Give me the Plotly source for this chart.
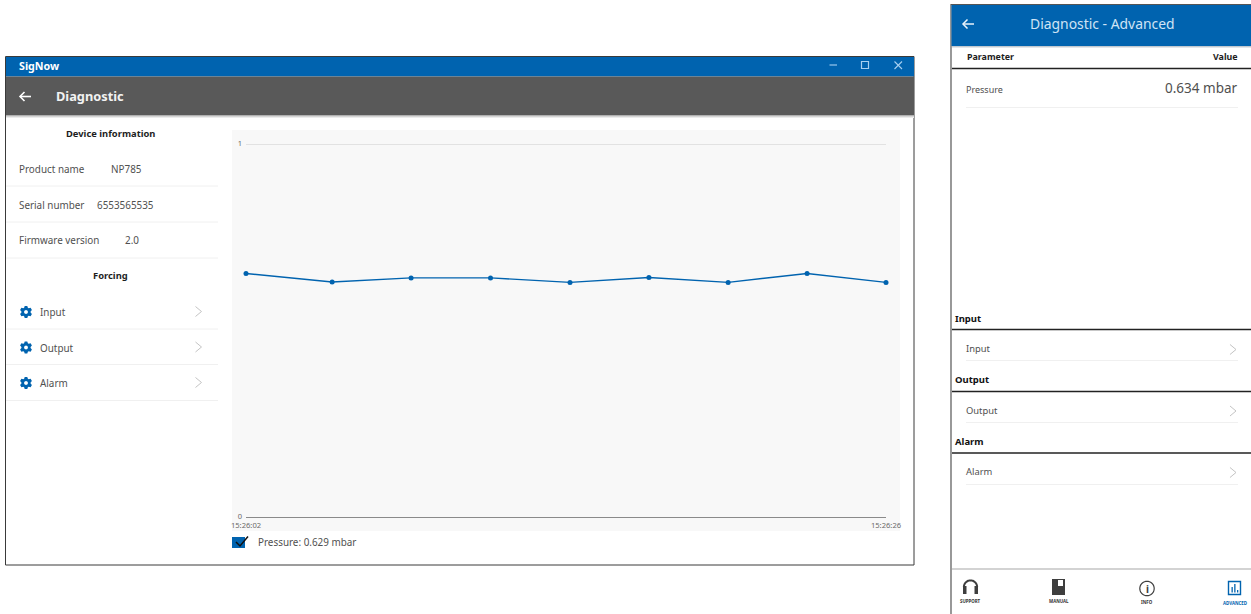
import math
import plotly.graph_objects as go

# ---- data ----
times = ["2024-01-01 15:26:02", "2024-01-01 15:26:05.23", "2024-01-01 15:26:08.19",
         "2024-01-01 15:26:11.17", "2024-01-01 15:26:14.15", "2024-01-01 15:26:17.11",
         "2024-01-01 15:26:20.08", "2024-01-01 15:26:23.04", "2024-01-01 15:26:26"]
pressure = [0.653, 0.630, 0.641, 0.641, 0.629, 0.642, 0.629, 0.653, 0.629]
x_tick_values = [times[0], times[-1]]
x_tick_labels = ["15:26:02", "15:26:26"]
y_tick_values = [0, 1]
legend_label = "Pressure: 0.629 mbar"

W, H = 1251, 614
BLUE = "#0063AF"
DARK = "#595959"
TXT = "#505050"
LIGHT = "#F0F0F0"
FONT = "Noto Sans"

shapes, notes = [], []
px = lambda x: x / W
py = lambda y: 1 - y / H

def rect(x0, y0, x1, y1, fill, line=None, lw=1):
    shapes.append(dict(type="rect", xref="paper", yref="paper", layer="below",
                       x0=px(x0), y0=py(y0), x1=px(x1), y1=py(y1), fillcolor=fill,
                       line=dict(color=line or "rgba(0,0,0,0)", width=lw if line else 0)))

def hline(x0, x1, y, color, lw=1):
    shapes.append(dict(type="line", xref="paper", yref="paper", layer="below",
                       x0=px(x0), x1=px(x1), y0=py(y), y1=py(y), line=dict(color=color, width=lw)))

def path(points, color=None, fill=None, lw=1.2, close=False):
    d = "M " + " L ".join(f"{px(a):.5f},{py(b):.5f}" for a, b in points) + (" Z" if close else "")
    shapes.append(dict(type="path", xref="paper", yref="paper", layer="below", path=d,
                       fillcolor=fill or "rgba(0,0,0,0)",
                       line=dict(color=color or "rgba(0,0,0,0)", width=lw if color else 0)))

def arc(cx, cy, r, a0=0, a1=360, n=36):
    return [(cx + r * math.cos(math.radians(a0 + (a1 - a0) * i / n)),
             cy + r * math.sin(math.radians(a0 + (a1 - a0) * i / n))) for i in range(n + 1)]

def text(x, y, s, size=10.5, color=TXT, bold=False, anchor="left"):
    notes.append(dict(xref="paper", yref="paper", x=px(x), y=py(y - 0.5), text=s, showarrow=False,
                      xanchor=anchor, yanchor="middle", borderpad=0,
                      font=dict(family=FONT, size=size, color=color, weight="bold" if bold else "normal")))

def gear(cx, cy):
    pts = []
    for i in range(6):
        a = 60 * i - 90
        for da, r in [(-24, 4.6), (-12, 6.2), (12, 6.2), (24, 4.6)]:
            pts.append((cx + r * math.cos(math.radians(a + da)), cy + r * math.sin(math.radians(a + da))))
    path(pts, fill=BLUE, close=True)
    path(arc(cx, cy, 1.9), fill="white", close=True)

def chevron(x, y, color="#C4C4C4"):
    path([(x, y - 5), (x + 6, y), (x, y + 5)], color=color, lw=1)

# ---- desktop window ----
rect(5.5, 56.5, 914, 565, "white", "#3A3A3A", 1)
rect(6, 57, 914, 76.5, BLUE)
rect(6, 76.5, 914, 115, DARK)
for i, c in enumerate(["#B0B0B0", "#D4D4D4", "#ECECEC"]):
    hline(6, 914, 115.5 + i, c)
text(17.5, 66.5, "SigNow", 10.7, "white", True)
text(55, 97, "Diagnostic", 12.8, "#F2F2F2", True)
path([(31, 96.5), (20, 96.5)], color="white", lw=1.6)
path([(24.5, 92), (20, 96.5), (24.5, 101)], color="white", lw=1.6)
hline(829.5, 837, 65, "#8FC0E8", 1.3)
rect(861.5, 61.5, 868.5, 68.5, "rgba(0,0,0,0)", "#A8D0F0", 1.2)
path([(894.5, 61.5), (902, 69)], color="#A8D0F0", lw=1.1)
path([(902, 61.5), (894.5, 69)], color="#A8D0F0", lw=1.1)

text(110.5, 133.5, "Device information", 9.4, "#1E1E1E", True, "center")
text(18, 169.5, "Product name", 9.9)
text(110, 169.5, "NP785", 9.9)
text(95.5, 205, "6553565535", 9.9)
text(18, 205, "Serial number", 9.9)
text(18, 240.5, "Firmware version", 9.9)
text(124, 240.5, "2.0", 9.9)
text(110.5, 276, "Forcing", 9.4, "#1E1E1E", True, "center")
for y in (186, 222, 258, 329, 364.5, 400.5):
    hline(6, 218, y, LIGHT)
for label, y in [("Input", 312.5), ("Output", 348), ("Alarm", 383.5)]:
    text(39, y, label, 9.9)
    gear(26, y - 0.5)
    chevron(195.5, y - 1)

# chart panel and legend swatch
rect(232, 130, 900, 531, "#F8F8F8")
rect(232, 537, 245, 548, BLUE)
path([(236, 542), (240, 546), (248, 536.5)], color="#111111", lw=1.5)
text(257, 542.5, legend_label, 9.9)

# ---- phone screen ----
rect(951, 4.5, 1260, 620, "white", "#555555", 1.2)
rect(951.5, 5, 1251, 46, BLUE)
for i, c in enumerate(["#C0C8D0", "#E2E6EA"]):
    hline(952, 1251, 46.5 + i, c)
text(1029, 23.5, "Diagnostic - Advanced", 13.9, "#CFE3F5")
path([(974, 24), (963, 24)], color="#E8F2FA", lw=1.5)
path([(967.5, 19.5), (963, 24), (967.5, 28.5)], color="#E8F2FA", lw=1.5)
text(965.5, 57, "Parameter", 8.9, "#1E1E1E", True)
text(1238.5, 57, "Value", 8.9, "#1E1E1E", True, "right")
hline(952, 1251, 68.5, "#222222", 1.5)
text(965, 89.5, "Pressure", 9)
text(1239, 89, "0.634 mbar", 13.5, TXT, False, "right")
hline(966, 1238, 107.5, LIGHT)
for label, yh, yl, yi, yb in [("Input", 318.5, 329.5, 349, 360.5),
                               ("Output", 380, 391.5, 410.5, 422.5),
                               ("Alarm", 441.5, 453, 472, 484.5)]:
    text(953.5, yh, label, 9.5, "#111111", True)
    hline(952, 1251, yl, "#222222", 1.5)
    text(965, yi, label, 9.4)
    hline(966, 1238, yb, LIGHT)
    chevron(1230, yi + 0.5)
hline(952, 1251, 569, "#A8A8A8", 1.2)

# bottom navigation icons
path(arc(970.5, 587, 6.6, 180, 360), color="#3E3E3E", lw=2)
rect(963, 586, 966.5, 594, "#3E3E3E")
rect(974.5, 586, 978, 594, "#3E3E3E")
rect(1052, 579, 1065, 595, "#3E3E3E")
rect(1058, 580, 1063, 586, "white")
path(arc(1147, 588.5, 7.2), color="#3E3E3E", lw=1.2, close=True)
text(1147, 589, "i", 10, "#3E3E3E", True, "center")
rect(1228.5, 581.5, 1240.5, 594.5, "rgba(0,0,0,0)", BLUE, 1.4)
rect(1231.5, 587, 1232.8, 592.5, BLUE)
rect(1234.2, 584, 1235.5, 592.5, BLUE)
rect(1237, 590, 1238.3, 592.5, BLUE)
text(970, 601.5, "SUPPORT", 4.4, "#333333", True, "center")
text(1059, 601.5, "MANUAL", 4.4, "#333333", True, "center")
text(1147, 602.5, "INFO", 4.4, "#333333", True, "center")
text(1235, 603, "ADVANCED", 4.4, BLUE, True, "center")

fig = go.Figure(go.Scatter(x=times, y=pressure, mode="lines+markers", name="Pressure",
                           line=dict(color=BLUE, width=1.4), marker=dict(color=BLUE, size=5),
                           cliponaxis=False, hoverinfo="skip"))
fig.update_layout(
    width=W, height=H, margin=dict(l=0, r=0, t=0, b=0, autoexpand=False), showlegend=False,
    paper_bgcolor="white", plot_bgcolor="rgba(0,0,0,0)",
    font=dict(family=FONT, color="#6A6A6A", size=8),
    shapes=shapes, annotations=notes,
    xaxis=dict(type="date", domain=[246 / W, 886 / W], range=[times[0], times[-1]],
               tickmode="array", tickvals=x_tick_values, ticktext=x_tick_labels, automargin=False,
               showgrid=False, zeroline=False, showline=True, linecolor="#8A8A8A", linewidth=1,
               ticks="", ticklabelstandoff=1, tickfont=dict(size=7.6, color="#6A6A6A")),
    yaxis=dict(domain=[1 - 517 / H, 1 - 142 / H], range=[0, 375 / 373], automargin=False,
               tickmode="array", tickvals=y_tick_values, ticktext=["0", "1"],
               showgrid=True, gridcolor="#E2E2E2", gridwidth=1, zeroline=False,
               ticks="", ticklabelstandoff=3, ticklabelshift=-1,
               tickfont=dict(size=7.5, color="#6A6A6A")),
)
fig.write_html("out.html", config={"displayModeBar": False},
               post_script="document.body.style.margin='0';document.body.style.overflow='hidden';")
